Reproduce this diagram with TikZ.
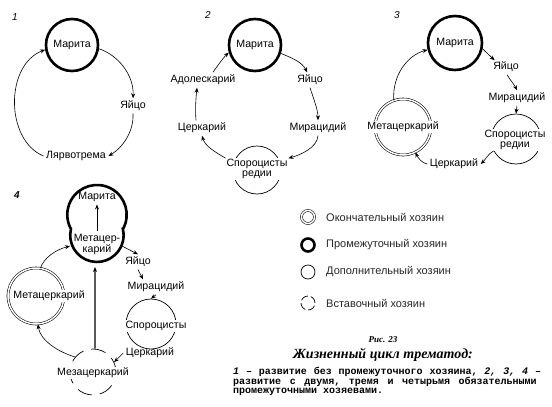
\documentclass[tikz,border=0pt]{standalone}
\usepackage{fontspec}
\setmainfont{Liberation Serif}
\setsansfont{Liberation Sans}
\newfontfamily\capmono{Liberation Mono}
\usetikzlibrary{arrows.meta,calc}
\tikzset{
  lbl/.style={font=\sffamily\fontsize{10.6}{10}\selectfont, inner sep=2.5pt, align=center},
  wlbl/.style={lbl, fill=white, inner sep=0.8pt},
  num/.style={font=\sffamily\itshape\fontsize{10}{11}\selectfont, inner sep=0pt},
  hostthick/.style={circle, draw, line width=2.6pt, minimum size=#1, inner sep=0pt},
  hostdbl/.style={circle, draw, double, double distance=1.5pt, line width=0.55pt, minimum size=#1, inner sep=0pt},
  hostthin/.style={circle, draw, line width=0.7pt, minimum size=#1, inner sep=0pt},
  hostdash/.style={circle, draw, line width=0.7pt, dash pattern=on 15pt off 8pt, minimum size=#1, inner sep=0pt},
  arr/.style={-{Stealth[length=5pt,width=4pt]}, line width=0.6pt},
  legtxt/.style={font=\sffamily\fontsize{11}{11}\selectfont, anchor=west, inner sep=0pt, text=black!85},
}
\begin{document}
\begin{tikzpicture}[x=1pt,y=-1pt]
\useasboundingbox (0,0) rectangle (552,407);

% ---------- diagram 1
\node[num] (n1) at (15,17) {1};
\node[lbl,hostthick=52pt] (m1) at (72,45) {Марита};
\node[lbl] (y1) at (133,106) {Яйцо};
\node[lbl] (l1) at (76,156) {Лярвотрема};
\draw[arr] (m1.-8) .. controls (118,55) and (134,75) .. (y1.north);
\draw[arr] (y1.south) .. controls (134,132) and (122,148) .. (l1.east);
\draw[arr] (l1.west) .. controls (5,140) and (5,65) .. (m1.190);

% ---------- diagram 2
\node[num] (n2) at (208,15) {2};
\node[lbl,hostthick=52pt] (m2) at (255,45) {Марита};
\node[lbl] (y2) at (310,80) {Яйцо};
\node[lbl] (mi2) at (318,128) {Мирацидий};
\node[hostthin=48pt] (s2c) at (257,170) {};
\node[wlbl] (s2) at (257,169) {Спороцисты\\редии};
\node[lbl] (c2) at (202,128) {Церкарий};
\node[lbl] (a2) at (203,80) {Адолескарий};
\draw[arr] (m2.-18) .. controls (292,58) and (302,62) .. (y2.110);
\draw[arr] (y2.south) .. controls (314,100) and (318,110) .. (mi2.north);
\draw[arr] (mi2.south) .. controls (317,148) and (300,155) .. (s2.north east);
\draw[arr] (s2.north west) .. controls (215,152) and (205,146) .. (c2.south);
\draw[arr] ($(c2.north)+(-6,0)$) .. controls (195,108) and (196,98) .. ($(a2.south)+(-6,0)$);
\draw[arr] ($(a2.north)+(10,0)$) .. controls (218,65) and (224,57) .. (m2.196);

% ---------- diagram 3
\node[num] (n3) at (397,15) {3};
\node[lbl,hostthick=54pt] (m3) at (455,43) {Марита};
\node[lbl] (y3) at (506,67) {Яйцо};
\node[lbl] (mi3) at (517,98) {Мирацидий};
\node[hostthin=50pt] (s3c) at (516,139) {};
\node[wlbl] (s3) at (515,140) {Спороцисты\\редии};
\node[lbl] (c3) at (454,164) {Церкарий};
\node[hostdbl=56pt] (mt3c) at (403,127) {};
\node[wlbl] (mt3) at (403,127) {Метацеркарий};
\draw[arr] (m3.-12) -- ($(y3.north west)+(4,1)$);
\draw[arr] ($(y3.south)+(1,0)$) .. controls (510,80) and (514,84) .. (mi3.north);
\draw[arr] (mi3.south) -- (s3c.north);
\draw[arr] (s3c.208) .. controls (488,154) and (485,160) .. (c3.east);
\draw[arr] (c3.west) .. controls (422,163) and (418,158) .. (mt3c.-64);
\draw[arr] (mt3c.109) .. controls (392,75) and (408,55) .. (m3.194);

% ---------- diagram 4
\node[num] (n4) at (17,195) {\bfseries 4};
\draw[line width=2.6pt] (123,229) arc[start angle=28.8, end angle=-208.8, radius=29.7]
      arc[start angle=193.6, end angle=-13.6, radius=26.7] -- cycle;
\coordinate (pkR) at (122,246);
\coordinate (pkL) at (70,246);
\coordinate (pkB) at (95,267);
\node[lbl] (mr4) at (97,197) {Марита};
\node[lbl] (mc4) at (97,244) {Метацер-\\карий};
\draw[arr, line width=0.9pt] (mc4.north) -- (mr4.south);
\node[lbl] (y4) at (138,262) {Яйцо};
\node[lbl] (mi4) at (156,287) {Мирацидий};
\node[hostthin=50pt] (s4c) at (151,324) {};
\node[wlbl] (s4) at (156,326) {Спороцисты};
\node[lbl] (c4) at (150,353) {Церкарий};
\node[hostdash=46pt] (mz4c) at (93,372) {};
\node[wlbl] (mz4) at (93,373) {Мезацеркарий};
\node[hostdbl=56pt] (mt4c) at (36,296) {};
\node[wlbl] (mt4) at (49,296) {Метацеркарий};
\draw[arr] (pkR) -- (y4.north);
\draw[arr] (y4.south) -- ($(mi4.north)+(-13,0)$);
\draw[arr] (mi4.south) -- (s4c.north);
\draw[arr] (c4.west) -- (mz4c.25);
\draw[arr, line width=1.1pt] (mz4c.85) -- (pkB);
\draw[arr] (mz4c.140) .. controls (58,352) and (40,340) .. (mt4c.-86);
\draw[arr] (mt4c.81) .. controls (44,258) and (55,250) .. (pkL);

% ---------- legend
\node[hostdbl=13pt] (lg1) at (308,217) {};
\node[legtxt] (lt1) at (326,217) {Окончательный хозяин};
\node[hostthick=13pt] (lg2) at (308,245) {};
\node[legtxt] (lt2) at (326,245) {Промежуточный хозяин};
\node[hostthin=14pt] (lg3) at (308,272) {};
\node[legtxt] (lt3) at (326,272) {Дополнительный хозяин};
\node[circle, draw, line width=0.7pt, dash pattern=on 8pt off 3pt, minimum size=14pt, inner sep=0pt] (lg4) at (308,303) {};
\node[legtxt] (lt4) at (326,303) {Вставочный хозяин};

% ---------- caption
\node[font=\bfseries\itshape\fontsize{9}{10}\selectfont, inner sep=0pt] (fig) at (383,340) {Рис. 23};
\node[font=\bfseries\itshape\fontsize{14}{16}\selectfont, inner sep=0pt] (ttl) at (383,355) {Жизненный цикл трематод:};
\node[anchor=north west, inner sep=0pt, text width=310pt, font=\capmono\bfseries\fontsize{10}{9.7}\selectfont] (cap) at (233,367)
 {\noindent\frenchspacing\spaceskip=6pt plus 8pt minus 1pt\relax
  \textit{1} – развитие без промежуточного хозяина, \textit{2, 3, 4} –\linebreak
  развитие с двумя, тремя и четырьмя обязательными\linebreak
  промежуточными хозяевами.};
\end{tikzpicture}
\end{document}
